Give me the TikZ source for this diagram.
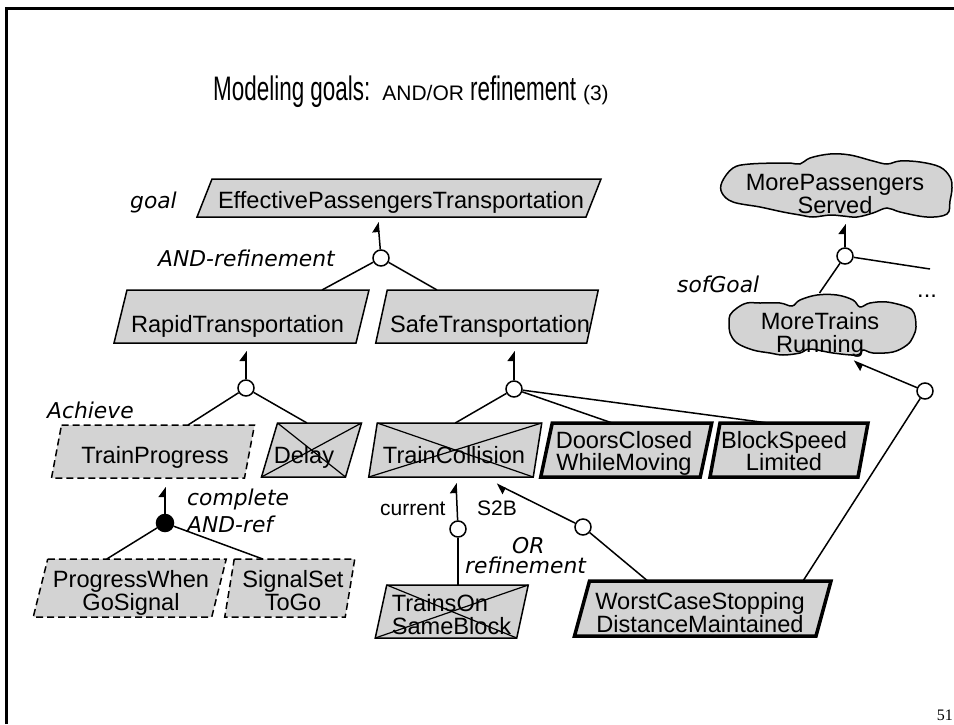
\documentclass[tikz,border=0pt]{standalone}
\usepackage{fontspec}
\setmainfont{Liberation Sans}
\newfontfamily\labelfamily{DejaVu Sans}
\newfontfamily\titlefamily{Liberation Sans}[FakeStretch=0.66]
\newfontfamily\pagenumfamily{Liberation Serif}
\usetikzlibrary{arrows.meta,calc}
\definecolor{goalfill}{RGB}{211,211,211}

\newcommand\boxtextfont{\fontsize{23.6}{22.5}\selectfont}
\newcommand\tagtextfont{\labelfamily\itshape\fontsize{21.8}{24}\selectfont}
\newcommand\notetextfont{\fontsize{21}{24}\selectfont}

% parallelogram goal: style, name, centre x, centre y, width, height, slant
\newcommand\goalbox[7]{%
  \path[#1] ({#3-#5/2+#7/2},{#4-#6/2}) -- ({#3+#5/2+#7/2},{#4-#6/2})
    -- ({#3+#5/2-#7/2},{#4+#6/2}) -- ({#3-#5/2-#7/2},{#4+#6/2}) -- cycle;
  \node[anchorbox, minimum width=#5, minimum height=#6] (#2) at (#3,#4) {};
}
% diagonal cross over an obstacle goal: name, slant
\newcommand\strikebox[2]{%
  \draw[strike] ([xshift=#2/2]#1.north west) -- ([xshift=-#2/2]#1.south east);
  \draw[strike] ([xshift=#2/2]#1.north east) -- ([xshift=-#2/2]#1.south west);
}

\begin{document}
\begin{tikzpicture}[x=1pt,y=-1pt,line join=miter,
  goalshape/.style={fill=goalfill,draw=black,line width=1.5pt},
  expshape/.style={goalshape,line width=3.5pt},
  dashshape/.style={goalshape,dash pattern=on 7pt off 4pt},
  cloudshape/.style={fill=goalfill,draw=black,line width=1.5pt},
  anchorbox/.style={rectangle,draw=none,inner sep=0pt,outer sep=0pt},
  strike/.style={line width=1.2pt},
  boxtext/.style={inner sep=0pt,font=\boxtextfont,align=center},
  refnode/.style={circle,draw=black,fill=white,line width=1.5pt,minimum size=16pt,inner sep=0pt},
  refcomplete/.style={refnode,fill=black,minimum size=17pt},
  link/.style={line width=1.5pt},
  goallink/.style={link,-{Stealth[left,length=9pt,width=13pt,inset=0pt]}},
  tag/.style={inner sep=0pt,anchor=base west,font=\tagtextfont},
  note/.style={inner sep=0pt,anchor=base west,font=\notetextfont}]
\useasboundingbox (0,0) rectangle (954,724);

% slide frame
\draw[line width=3pt] (6.7,724) -- (6.7,8.5) -- (954,8.5);

% title
\node[anchor=base west,inner sep=0pt] (title) at (213,100)
  {\titlefamily\fontsize{34}{40}\selectfont Modeling goals:\hspace{12pt}{\normalfont\fontsize{21}{24}\selectfont AND/OR}\hspace{6pt}refinement\hspace{7pt}{\normalfont\fontsize{21}{24}\selectfont (3)}};

% goals
\goalbox{goalshape}{eff}{399}{198}{389}{38}{15}
\node[boxtext,anchor=base] (eff-t) at (401,208) {EffectivePassengersTransportation};

\goalbox{goalshape}{rt}{241.5}{316.5}{242}{53}{13}
\node[boxtext,anchor=base] (rt-t) at (237.5,332) {RapidTransportation};

\goalbox{goalshape}{st}{487}{316.5}{211}{53}{11.5}
\node[boxtext,anchor=base] (st-t) at (490,332) {SafeTransportation};

\goalbox{dashshape}{tp}{153}{451.5}{193}{53}{10}
\node[boxtext,anchor=base] (tp-t) at (155,463) {TrainProgress};

\goalbox{goalshape}{dl}{311.5}{450}{84}{54}{16}
\strikebox{dl}{16}
\node[boxtext,anchor=base] (dl-t) at (304,463) {Delay};

\goalbox{goalshape}{tc}{455.25}{450}{164.5}{54}{8.5}
\strikebox{tc}{8.5}
\node[boxtext,anchor=base] (tc-t) at (454,463) {TrainCollision};

\goalbox{expshape}{dc}{626.25}{450}{159.5}{54}{11.5}
\node[boxtext] (dc-t) at (624,453.4) {DoorsClosed\\WhileMoving};

\goalbox{expshape}{bs}{789}{450}{148}{54}{10}
\node[boxtext] (bs-t) at (784,450.9) {BlockSpeed\\Limited};

\goalbox{dashshape}{pw}{129.75}{588}{178.5}{58}{14.5}
\node[boxtext] (pw-t) at (131,592.9) {ProgressWhen\\GoSignal};

\goalbox{dashshape}{ss}{289.75}{588}{120.5}{58}{9.5}
\node[boxtext] (ss-t) at (293,590.4) {SignalSet\\ToGo};

\goalbox{goalshape}{ts}{451.75}{611.5}{141.5}{53}{11.5}
\strikebox{ts}{11.5}
\node[boxtext,align=left] (ts-t) at (451.5,614.5) {TrainsOn\\SameBlock};

\goalbox{expshape}{wc}{702.75}{608.5}{241.5}{55}{15}
\node[boxtext] (wc-t) at (700,612.4) {WorstCaseStopping\\DistanceMaintained};

% soft goals
\path[cloudshape] plot[smooth cycle,tension=0.6] coordinates {
  (722,182) (733,168) (750,164) (787,163) (800,164) (810,158) (830,154)
  (850,155) (873,161) (887,164) (900,161) (920,162) (940,167) (950,177)
  (952,188) (950,201) (947,214) (927,217) (900,212) (887,208) (873,213)
  (857,217) (843,216) (830,215) (813,217) (800,215) (783,212) (760,207)
  (733,202) (722,193)};
\node[anchorbox,minimum width=230,minimum height=66] (mp) at (837,185) {};
\node[boxtext] (mp-t) at (835,193.9) {MorePassengers\\Served};

\path[cloudshape] plot[smooth cycle,tension=0.6] coordinates {
  (729,323) (730,315) (737,308) (747,303) (760,303) (780,303) (792,306)
  (800,300) (817,295) (837,295) (853,300) (860,307) (870,303) (887,302)
  (907,307) (914,313) (916,327) (913,337) (907,345) (893,352) (873,353)
  (863,350) (857,355) (833,353) (810,349) (800,353) (783,355) (770,353)
  (753,350) (737,343) (730,333)};
\node[anchorbox,minimum width=187,minimum height=62] (mt) at (822.5,324) {};
\node[boxtext] (mt-t) at (820,334.9) {MoreTrains\\Running};

% refinement nodes
\node[refnode] (c1) at (381,258) {};
\node[refnode] (c2) at (246,388) {};
\node[refnode] (c3) at (514,389) {};
\node[refcomplete] (c4) at (165,523) {};
\node[refnode] (c5) at (458,529) {};
\node[refnode] (c6) at (583,527) {};
\node[refnode] (c7) at (925,391) {};
\node[refnode] (c8) at (845,256) {};
\coordinate (more) at (930,269);

% refinement links
\draw[goallink] (c1) -- ([xshift=-3,yshift=-5]c1 |- eff.south);
\draw[link] (c1) -- ([xshift=80.5]rt.north);
\draw[link] (c1) -- ([xshift=-50]st.north);

\draw[goallink] (c2) -- ([yshift=-8]c2 |- rt.south);
\draw[link] (c2) -- ([xshift=35]tp.north);
\draw[link] (c2) -- ([xshift=-4.5]dl.north);

\draw[goallink] (c3) -- ([yshift=-8]c3 |- st.south);
\draw[link] (c3) -- (tc.north);
\draw[link] (c3) -- ([xshift=-14]dc.north);
\draw[link] (c3) -- ([xshift=-21]bs.north);

\draw[goallink] (c4) -- ([yshift=-9]c4 |- tp.south);
\draw[link] (c4) -- ([xshift=-23]pw.north);
\draw[link] (c4) -- ([xshift=-27]ss.north);

\draw[goallink] (c5) -- ([xshift=-2,yshift=-6]c5 |- tc.south);
\draw[link] (c5) -- (c5 |- ts.north);

\draw[goallink] (c6) -- ([xshift=-41,yshift=-7]tc.south east);
\draw[link] (c6) -- ([xshift=-55]wc.north);

\draw[goallink] (c7) -- ([xshift=31,yshift=-6]mt.south);
\draw[link] (c7) -- ([xshift=-20.5]wc.north east);

\draw[goallink] (c8) -- ([yshift=-6]c8 |- mp.south);
\draw[link] (c8) -- ([xshift=-3]mt.north);
\draw[link] (c8) -- (more);

% annotations
\node[tag] (goal-l) at (130,208) {goal};
\node[tag] (andref-l) at (158,266) {AND-refinement};
\node[tag] (achieve-l) at (47,418) {Achieve};
\node[tag] (complete-l) at (187,505) {complete};
\node[tag] (completeref-l) at (187,532) {AND-ref};
\node[note] (current-l) at (380,515) {current};
\node[note] (s2b-l) at (477,515) {S2B};
\node[tag] (or-l) at (512,553) {OR};
\node[tag] (orref-l) at (465,573) {refinement};
\node[tag] (soft-l) at (677,292) {sofGoal};
\node[boxtext,anchor=base west] (dots) at (917,297) {...};
\node[anchor=base east,inner sep=0pt,font=\pagenumfamily\fontsize{16}{18}\selectfont] (pagenum) at (953,720) {51};
\end{tikzpicture}
\end{document}
